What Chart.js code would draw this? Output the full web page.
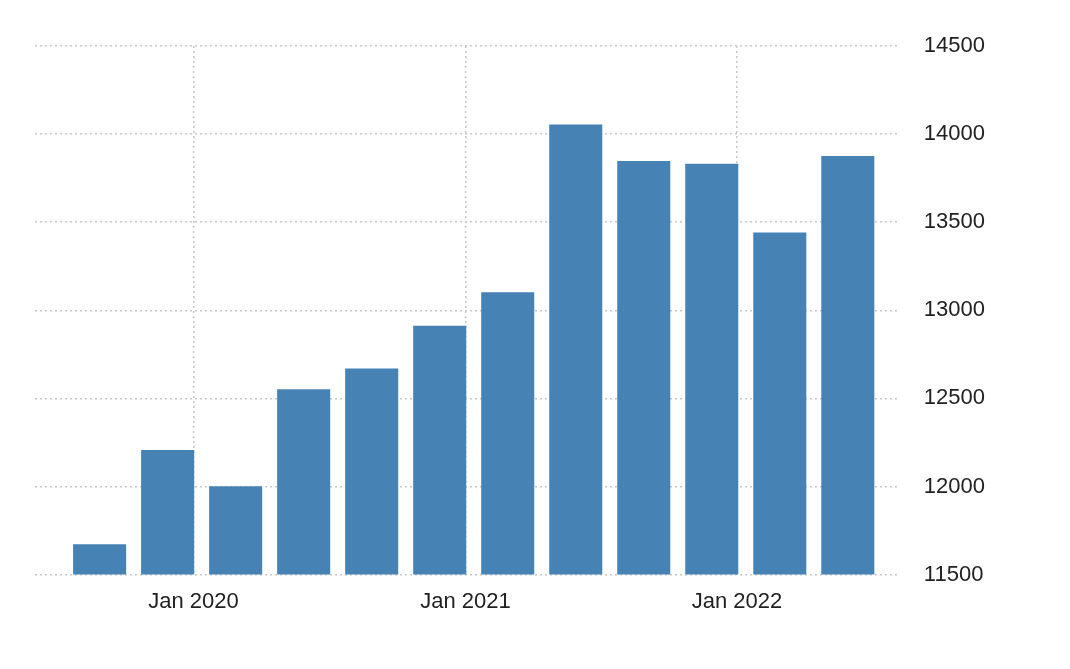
<!DOCTYPE html>
<html><head><script src="https://cdn.jsdelivr.net/npm/chart.js"></script>
<style>body{margin:0;background:#fff}#w{width:1070px;height:669px}</style></head>
<body><div id="w"><canvas id="c"></canvas></div>
<script>
const values=[11672,12207,12001,12552,12669,12913,13103,14054,13848,13832,13442,13876];
const barX=[0,1,2,3,4,5,6,7,8,9,10,11];
const tickPos=[1.38,5.38,9.37];
const tickLabels=['Jan 2020','Jan 2021','Jan 2022'];
const yTicks=[11500,12000,12500,13000,13500,14000,14500];
new Chart(document.getElementById('c'),{
type:'bar',
data:{datasets:[{data:values.map((v,i)=>({x:barX[i],y:v})),backgroundColor:'#4682b4',barPercentage:0.78,categoryPercentage:1}]},
options:{responsive:true,maintainAspectRatio:false,animation:false,
layout:{padding:{left:35,top:46,right:60,bottom:40}},
plugins:{legend:{display:false},tooltip:{enabled:false}},
scales:{
x:{type:'linear',min:-0.95,max:11.75,offset:false,
afterBuildTicks:s=>{s.ticks=tickPos.map(v=>({value:v}));},
ticks:{callback:(v)=>{const i=tickPos.findIndex(p=>Math.abs(p-v)<1e-6);return i<0?'':tickLabels[i];},color:'#222',font:{family:'Liberation Sans',size:22},maxRotation:0,autoSkip:false,padding:14},
grid:{color:'#c8c8c8',offset:false,drawTicks:false,lineWidth:1.5},border:{display:false,dash:[2,3]}},
y:{position:'right',min:11500,max:14500,
afterBuildTicks:s=>{s.ticks=yTicks.map(v=>({value:v}));},
ticks:{callback:v=>String(v),color:'#222',font:{family:'Liberation Sans',size:22},padding:25},
grid:{color:'#c8c8c8',drawTicks:false,lineWidth:1.5},border:{display:false,dash:[2,3]}}
}}});
</script></body></html>
